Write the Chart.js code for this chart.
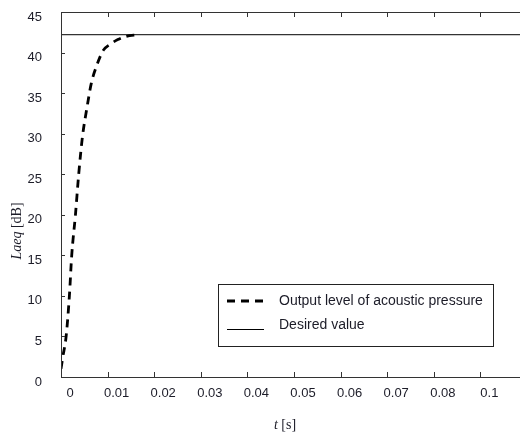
<!DOCTYPE html>
<html>
<head>
<meta charset="utf-8">
<script src="https://cdn.jsdelivr.net/npm/chart.js@4.4.1/dist/chart.umd.min.js"></script>
<style>
  html, body { margin: 0; padding: 0; background: #fff; overflow: hidden; }
  #wrap { width: 540px; height: 432px; }
</style>
</head>
<body>
<div id="wrap"><canvas id="acoustic" width="540" height="432"></canvas></div>
<script>
// step response of the acoustic pressure level
const times  = [0, 0.0004, 0.0011, 0.0018, 0.0023, 0.0031, 0.0038, 0.0046, 0.0056, 0.0065, 0.0076, 0.0091, 0.0105, 0.0122, 0.0140, 0.0165];
const levels = [1.0, 2.5, 5.0, 10.0, 15.0, 20.0, 25.0, 29.6, 33.3, 36.2, 38.3, 40.3, 41.0, 41.6, 42.0, 42.2];

// reference (desired) level, drawn across the whole time range
const desiredTimes  = [0, 0.1];
const desiredLevels = [42.2, 42.2];

// the original figure prints these under the ticks (0.09 is skipped)
const xTickLabels = ['0', '0.01', '0.02', '0.03', '0.04', '0.05', '0.06', '0.07', '0.08', '0.1', ''];
const seriesNames = ['Output level of acoustic pressure', 'Desired value'];

const textColor = '#1c1c28';
const frameColor = '#333';

// box, inward ticks, axis titles and the boxed legend
const figurePlugin = {
    id: 'figure',
    afterDatasetsDraw(chart) {
        const ctx = chart.ctx;
        const area = chart.chartArea;
        const xs = chart.scales.x;
        const ys = chart.scales.y;
        ctx.save();

        ctx.strokeStyle = frameColor;
        ctx.lineWidth = 1;
        ctx.strokeRect(Math.round(area.left) + 0.5, Math.round(area.top) + 0.5,
            Math.round(area.right - area.left), Math.round(area.bottom - area.top));

        ctx.beginPath();
        xs.ticks.forEach(t => {
            const px = Math.round(xs.getPixelForValue(t.value)) + 0.5;
            ctx.moveTo(px, area.bottom);
            ctx.lineTo(px, area.bottom - 5);
            ctx.moveTo(px, area.top);
            ctx.lineTo(px, area.top + 5);
        });
        ys.ticks.forEach(t => {
            const py = Math.round(ys.getPixelForValue(t.value)) + 0.5;
            ctx.moveTo(area.left, py);
            ctx.lineTo(area.left + 4, py);
            ctx.moveTo(area.right, py);
            ctx.lineTo(area.right - 4, py);
        });
        ctx.stroke();

        // x title: italic t, upright unit
        ctx.fillStyle = textColor;
        ctx.textBaseline = 'alphabetic';
        ctx.textAlign = 'left';
        const fItal = 'italic 14px "Liberation Serif"';
        const fReg = '14px "Liberation Serif"';
        ctx.font = fItal;
        const wt = ctx.measureText('t').width;
        ctx.font = fReg;
        const wu = ctx.measureText(' [s]').width;
        let x0 = 285 - (wt + wu) / 2;
        ctx.font = fItal;
        ctx.fillText('t', x0, 429);
        ctx.font = fReg;
        ctx.fillText(' [s]', x0 + wt, 429);

        // y title, rotated
        ctx.save();
        ctx.translate(21, 231);
        ctx.rotate(-Math.PI / 2);
        ctx.font = fItal;
        const wl = ctx.measureText('Laeq').width;
        ctx.font = fReg;
        const wd = ctx.measureText(' [dB]').width;
        x0 = -(wl + wd) / 2;
        ctx.font = fItal;
        ctx.fillText('Laeq', x0, 0);
        ctx.font = fReg;
        ctx.fillText(' [dB]', x0 + wl, 0);
        ctx.restore();

        // legend
        const lx = 218, ly = 284, lw = 275, lh = 62;
        ctx.fillStyle = '#fff';
        ctx.fillRect(lx, ly, lw, lh);
        ctx.strokeStyle = '#222';
        ctx.lineWidth = 1;
        ctx.strokeRect(lx + 0.5, ly + 0.5, lw, lh);
        ctx.font = '14px "Liberation Sans", Arial, sans-serif';
        ctx.textBaseline = 'middle';
        ctx.fillStyle = textColor;
        const rows = [301, 325];
        chart.data.datasets.forEach((ds, i) => {
            const yy = rows[i];
            ctx.beginPath();
            ctx.strokeStyle = ds.borderColor;
            ctx.lineWidth = ds.borderWidth;
            ctx.setLineDash(ds.borderDash || []);
            const sy = i === 0 ? yy : yy + 4.5;
            ctx.moveTo(227, sy);
            ctx.lineTo(264, sy);
            ctx.stroke();
            ctx.setLineDash([]);
            ctx.fillText(ds.label, 279, yy);
        });

        ctx.restore();
    }
};

const curve = times.map((t, i) => ({ x: t, y: levels[i] }));
const desired = desiredTimes.map((t, i) => ({ x: t, y: desiredLevels[i] }));

const config = {
    type: 'line',
    data: {
        datasets: [{
            label: seriesNames[0],
            data: curve,
            borderColor: '#000',
            borderWidth: 2.8,
            borderDash: [8, 6],
            pointRadius: 0,
            cubicInterpolationMode: 'monotone',
            fill: false
        }, {
            label: seriesNames[1],
            data: desired,
            borderColor: '#000',
            borderWidth: 1,
            pointRadius: 0,
            fill: false
        }]
    },
    options: {
        responsive: false,
        animation: false,
        layout: { padding: { top: 12, right: 13, left: 0, bottom: 0 } },
        plugins: {
            legend: { display: false },
            tooltip: { enabled: false }
        },
        scales: {
            x: {
                type: 'linear',
                min: 0,
                max: 0.1,
                grid: { display: false },
                border: { display: false },
                ticks: {
                    stepSize: 0.01,
                    color: textColor,
                    font: { family: '"Liberation Sans", Arial, sans-serif', size: 13 },
                    padding: 1,
                    labelOffset: 9,
                    maxRotation: 0,
                    autoSkip: false,
                    callback: (v, i) => xTickLabels[i]
                },
                afterFit: s => { s.height = 55; s.paddingLeft = 0; s.paddingRight = 0; }
            },
            y: {
                min: 0,
                max: 45,
                grid: { display: false },
                border: { display: false },
                ticks: {
                    stepSize: 5,
                    color: textColor,
                    font: { family: '"Liberation Sans", Arial, sans-serif', size: 13 },
                    padding: 11,
                    labelOffset: 5
                },
                afterFit: s => { s.width = 61; s.paddingTop = 0; s.paddingBottom = 0; }
            }
        }
    },
    plugins: [figurePlugin]
};

new Chart(document.getElementById('acoustic'), config);
</script>
</body>
</html>
